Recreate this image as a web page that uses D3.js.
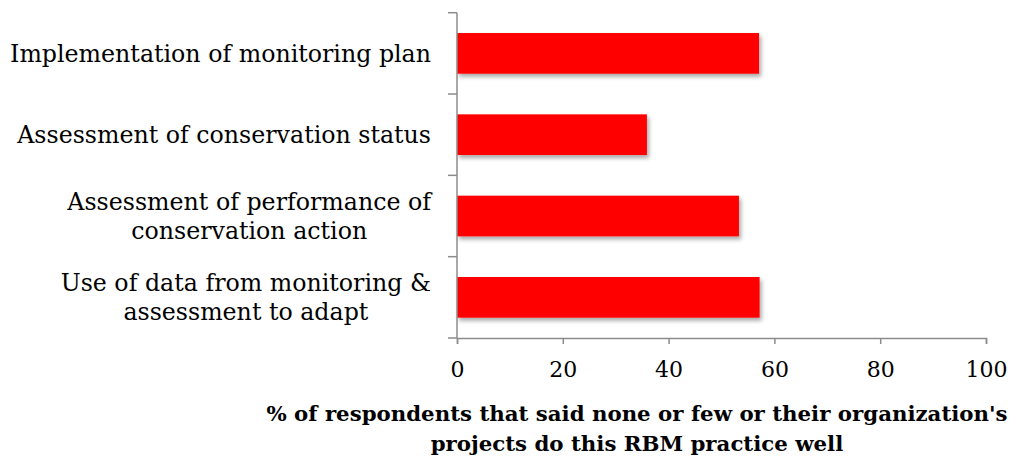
<!DOCTYPE html>
<html>
<head>
<meta charset="utf-8">
<script src="https://cdn.jsdelivr.net/npm/d3@7"></script>
<style>
  body { margin: 0; background: #fff; }
  text { font-family: "DejaVu Serif", serif; }
</style>
</head>
<body>
<script>
// ---------- DATA ----------
var categories = [
  ["Implementation of monitoring plan"],
  ["Assessment of conservation status"],
  ["Assessment of performance of", "conservation action"],
  ["Use of data from monitoring &", "assessment to adapt"]
];
var values = [57.1, 35.9, 53.3, 57.2];
var xTicks = [0, 20, 40, 60, 80, 100];
var xTitle = ["% of respondents that said none or few or their organization's", "projects do this RBM practice well"];

// ---------- DIMENSIONS ----------
var w = 1019, h = 459;
var margin = { top: 12.7, right: 33, bottom: 121, left: 457 };
var innerW = w - margin.left - margin.right;
var innerH = h - margin.top - margin.bottom;
var axisColor = "#8c8c8c";

var svg = d3.select("body").append("svg")
  .attr("width", w)
  .attr("height", h);

// drop shadow under bars
var defs = svg.append("defs");
var f = defs.append("filter").attr("id", "shadow")
  .attr("x", "-5%").attr("y", "-20%").attr("width", "115%").attr("height", "160%");
f.append("feDropShadow")
  .attr("dx", 2).attr("dy", 3).attr("stdDeviation", 2)
  .attr("flood-color", "#000").attr("flood-opacity", 0.35);

var g = svg.append("g")
  .attr("transform", "translate(" + margin.left + "," + margin.top + ")");

// ---------- SCALES ----------
var x = d3.scaleLinear().domain([0, 100]).range([0, innerW]);
var y = d3.scaleBand()
  .domain(d3.range(categories.length))
  .range([0, innerH])
  .paddingInner(0.5)
  .paddingOuter(0.25);

// ---------- BARS ----------
g.selectAll("rect.bar")
  .data(values)
  .enter()
  .append("rect")
  .attr("class", "bar")
  .attr("x", 0)
  .attr("y", (d, i) => y(i))
  .attr("width", d => x(d))
  .attr("height", y.bandwidth())
  .attr("fill", "#ff0000")
  .attr("filter", "url(#shadow)");

// ---------- AXES ----------
var xAxis = g.append("g")
  .attr("transform", "translate(0," + innerH + ")")
  .call(d3.axisBottom(x).tickValues(xTicks).tickSize(6).tickSizeOuter(6).tickPadding(17));

// y axis: line with ticks at band boundaries
var yAxis = g.append("g");
yAxis.append("line")
  .attr("x1", 0).attr("x2", 0)
  .attr("y1", 0).attr("y2", innerH)
  .attr("stroke", axisColor).attr("stroke-width", 1.5);
var step = innerH / categories.length;
yAxis.selectAll("line.tick")
  .data(d3.range(categories.length + 1))
  .enter()
  .append("line")
  .attr("class", "tick")
  .attr("x1", -9).attr("x2", 0)
  .attr("y1", d => d * step).attr("y2", d => d * step)
  .attr("stroke", axisColor).attr("stroke-width", 1.5);

xAxis.select(".domain").attr("stroke", axisColor).attr("stroke-width", 1.5);
xAxis.selectAll(".tick line").attr("stroke", axisColor).attr("stroke-width", 1.5);
xAxis.selectAll(".tick text")
  .attr("fill", "#000")
  .style("font-size", "22px")
  .style("font-family", "'DejaVu Serif', serif");

// ---------- CATEGORY LABELS ----------
var labelRight = -26;
var lineH = 29;
categories.forEach(function (lines, i) {
  var cy = y(i) + y.bandwidth() / 2;
  var grp = g.append("g");
  var texts = lines.map(function (s, j) {
    return grp.append("text")
      .text(s)
      .attr("y", cy + (j - (lines.length - 1) / 2) * lineH)
      .attr("dy", "0.35em")
      .attr("text-anchor", "middle")
      .attr("font-size", "23.7px")
      .attr("fill", "#000");
  });
  var maxW = d3.max(texts, t => t.node().getComputedTextLength());
  texts.forEach(t => t.attr("x", labelRight - maxW / 2));
});

// ---------- X TITLE ----------
xTitle.forEach(function (s, j) {
  svg.append("text")
    .text(s)
    .attr("x", 637)
    .attr("y", 421 + j * 30)
    .attr("text-anchor", "middle")
    .attr("font-size", "21.3px")
    .attr("font-weight", "bold")
    .attr("fill", "#000");
});
</script>
</body>
</html>
